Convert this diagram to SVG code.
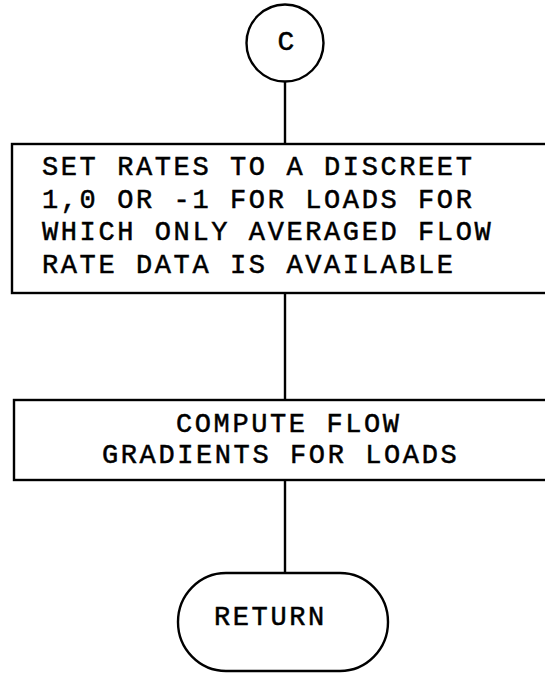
<svg xmlns="http://www.w3.org/2000/svg" width="545" height="675" viewBox="0 0 545 675">
<style>
.s{fill:none;stroke:#000;stroke-width:2.4}
.t{font-family:"Liberation Mono","DejaVu Sans Mono",monospace;font-size:27px;letter-spacing:2.6px;fill:#000;stroke:#000;stroke-width:0.5}
</style>
<rect width="545" height="675" fill="#fff"/>
<g id="connectors">
<line class="s" x1="285" y1="81" x2="285" y2="144"/>
<line class="s" x1="285" y1="293" x2="285" y2="400"/>
<line class="s" x1="285" y1="480" x2="285" y2="573"/>
</g>
<g id="nodeC">
<circle class="s" cx="285" cy="43" r="38.5"/>
<text class="t" x="286" y="50" text-anchor="middle" style="font-size:28px;letter-spacing:0">C</text>
</g>
<g id="node1">
<rect class="s" x="12" y="144" width="560" height="149"/>
<text class="t" x="42" y="175">SET RATES TO A DISCREET</text>
<text class="t" x="42" y="208">1,0 OR -1 FOR LOADS FOR</text>
<text class="t" x="42" y="240">WHICH ONLY AVERAGED FLOW</text>
<text class="t" x="42" y="273">RATE DATA IS AVAILABLE</text>
</g>
<g id="node2">
<rect class="s" x="14" y="400" width="560" height="80"/>
<text class="t" x="176" y="432">COMPUTE FLOW</text>
<text class="t" x="102" y="463">GRADIENTS FOR LOADS</text>
</g>
<g id="nodeReturn">
<rect class="s" x="178" y="573" width="210" height="98" rx="48" ry="49"/>
<text class="t" x="214" y="625">RETURN</text>
</g>
</svg>
